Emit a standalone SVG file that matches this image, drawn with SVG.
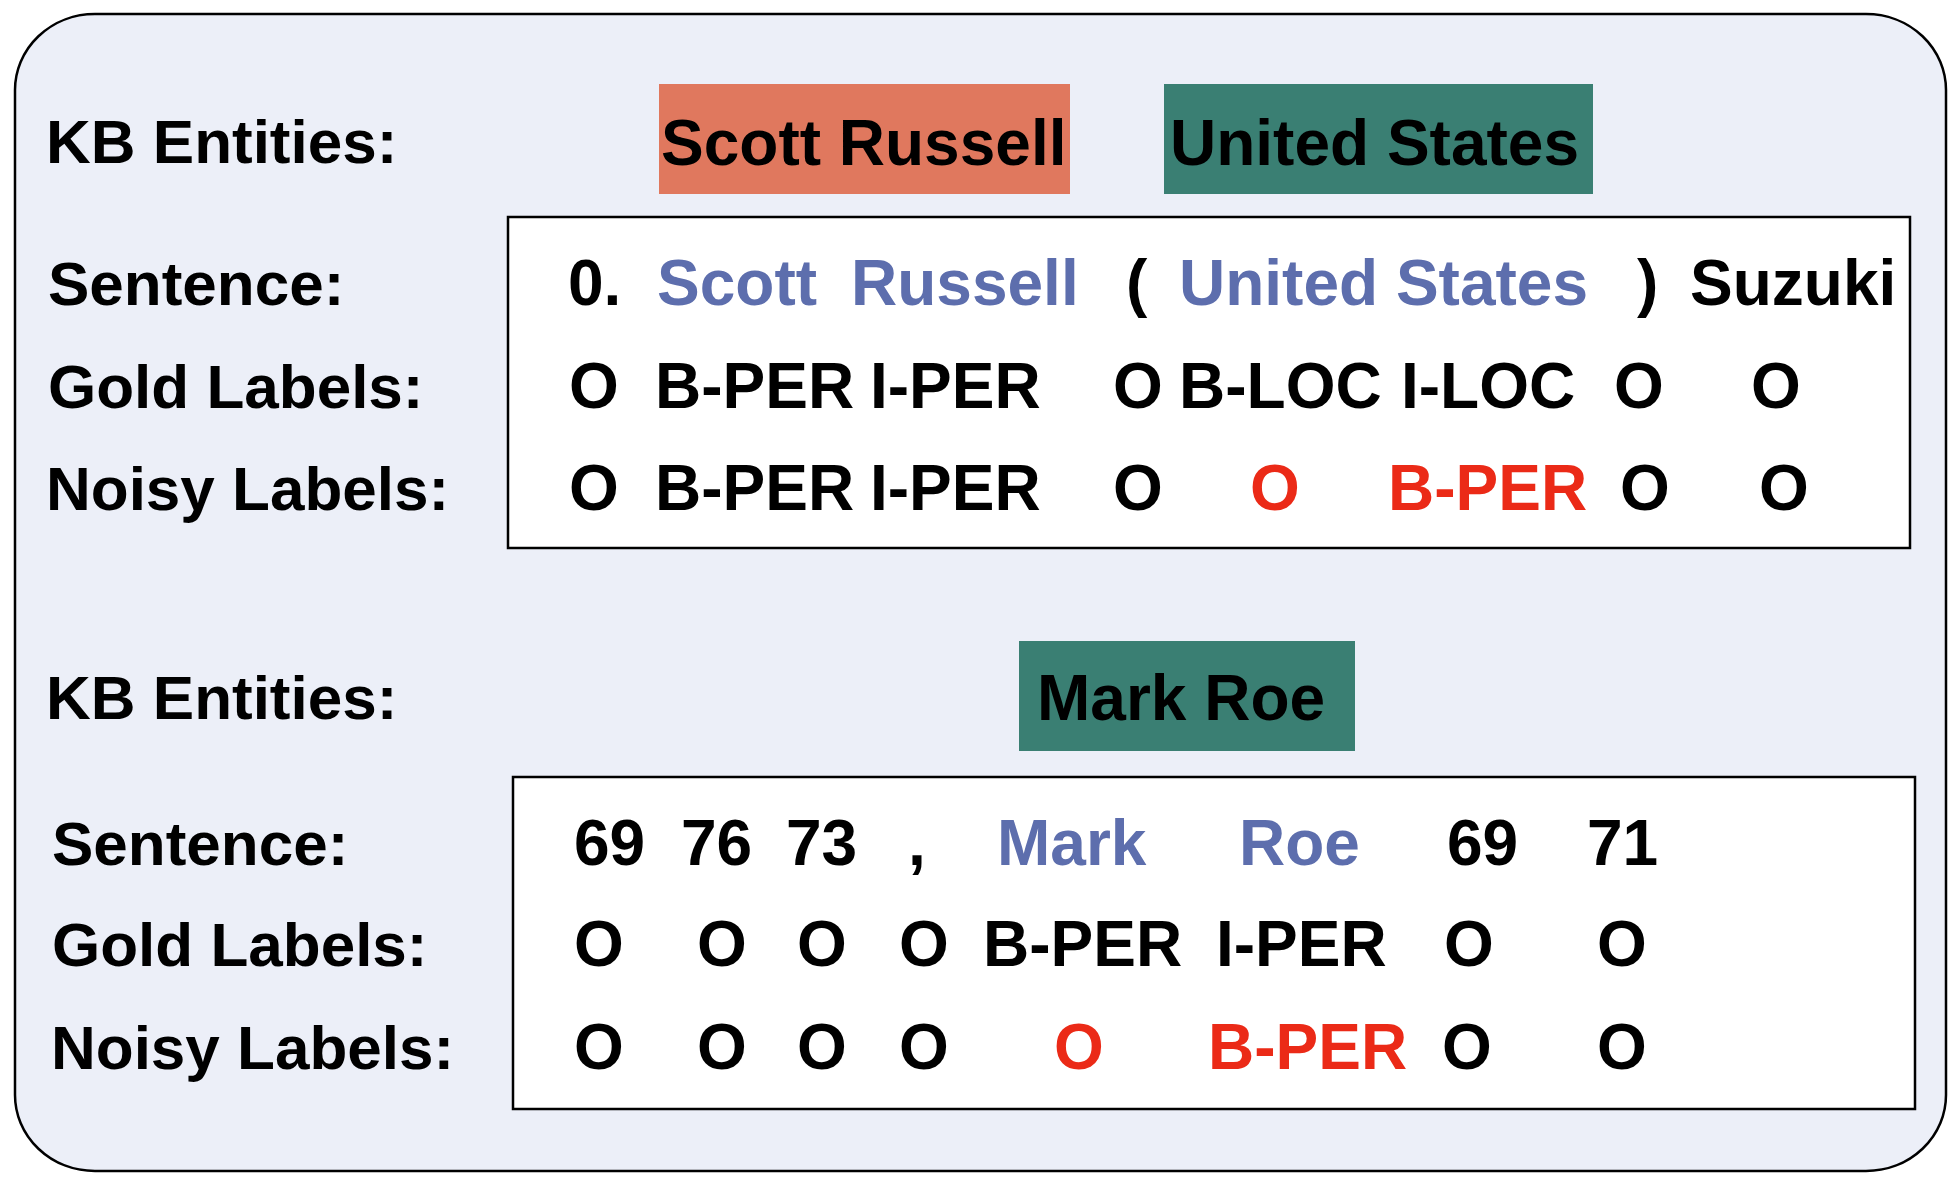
<svg xmlns="http://www.w3.org/2000/svg" width="1960" height="1184" viewBox="0 0 1960 1184">
<style>
text{font-family:"Liberation Sans",Arial,Helvetica,sans-serif;font-weight:bold;font-size:64px;fill:#000}
text.lbl{font-size:62px}
.b{fill:#5D6EAD}
.r{fill:#EB2A17}
.box{fill:#fff;stroke:#000;stroke-width:2.5}
.per{fill:#E0785E}
.loc{fill:#3A7F73}
</style>
<rect width="1960" height="1184" fill="#fff"/>
<g id="panel">
<rect x="15" y="14" width="1931" height="1157" rx="80" ry="76" fill="#ECEFF8" stroke="#000" stroke-width="2.5"/>
</g>
<g id="example1">
<g id="kb1">
<text class="lbl" x="46" y="163">KB Entities:</text>
<g id="ent-scott-russell"><rect class="per" x="659" y="84" width="411" height="110"/><text x="661" y="165">Scott Russell</text></g>
<g id="ent-united-states"><rect class="loc" x="1164" y="84" width="429" height="110"/><text x="1170" y="165">United States</text></g>
</g>
<g id="rows1">
<text class="lbl" x="48" y="305">Sentence:</text>
<text class="lbl" x="48" y="408">Gold Labels:</text>
<text class="lbl" x="46" y="510">Noisy Labels:</text>
</g>
<g id="table1">
<rect class="box" x="508" y="217" width="1402" height="331"/>
<text x="568" y="305">0.</text>
<text class="b" x="657" y="305">Scott</text>
<text class="b" x="851" y="305">Russell</text>
<text x="1126" y="305">(</text>
<text class="b" x="1179" y="305">United States</text>
<text x="1637" y="305">)</text>
<text x="1690" y="305">Suzuki</text>
<text x="569" y="408">O</text>
<text x="655" y="408">B-PER</text>
<text x="870" y="408">I-PER</text>
<text x="1113" y="408">O</text>
<text x="1179" y="408">B-LOC</text>
<text x="1401" y="408">I-LOC</text>
<text x="1614" y="408">O</text>
<text x="1751" y="408">O</text>
<text x="569" y="510">O</text>
<text x="655" y="510">B-PER</text>
<text x="870" y="510">I-PER</text>
<text x="1113" y="510">O</text>
<text class="r" x="1250" y="510">O</text>
<text class="r" x="1388" y="510">B-PER</text>
<text x="1620" y="510">O</text>
<text x="1759" y="510">O</text>
</g>
</g>
<g id="example2">
<g id="kb2">
<text class="lbl" x="46" y="719">KB Entities:</text>
<g id="ent-mark-roe"><rect class="loc" x="1019" y="641" width="336" height="110"/><text x="1037" y="720">Mark Roe</text></g>
</g>
<g id="rows2">
<text class="lbl" x="52" y="865">Sentence:</text>
<text class="lbl" x="52" y="966">Gold Labels:</text>
<text class="lbl" x="51" y="1069">Noisy Labels:</text>
</g>
<g id="table2">
<rect class="box" x="513" y="777" width="1402" height="332"/>
<text x="574" y="865">69</text>
<text x="681" y="865">76</text>
<text x="786" y="865">73</text>
<text x="908" y="865">,</text>
<text class="b" x="997" y="865">Mark</text>
<text class="b" x="1239" y="865">Roe</text>
<text x="1447" y="865">69</text>
<text x="1587" y="865">71</text>
<text x="574" y="966">O</text>
<text x="697" y="966">O</text>
<text x="797" y="966">O</text>
<text x="899" y="966">O</text>
<text x="983" y="966">B-PER</text>
<text x="1216" y="966">I-PER</text>
<text x="1444" y="966">O</text>
<text x="1597" y="966">O</text>
<text x="574" y="1069">O</text>
<text x="697" y="1069">O</text>
<text x="797" y="1069">O</text>
<text x="899" y="1069">O</text>
<text class="r" x="1054" y="1069">O</text>
<text class="r" x="1208" y="1069">B-PER</text>
<text x="1442" y="1069">O</text>
<text x="1597" y="1069">O</text>
</g>
</g>
</svg>
